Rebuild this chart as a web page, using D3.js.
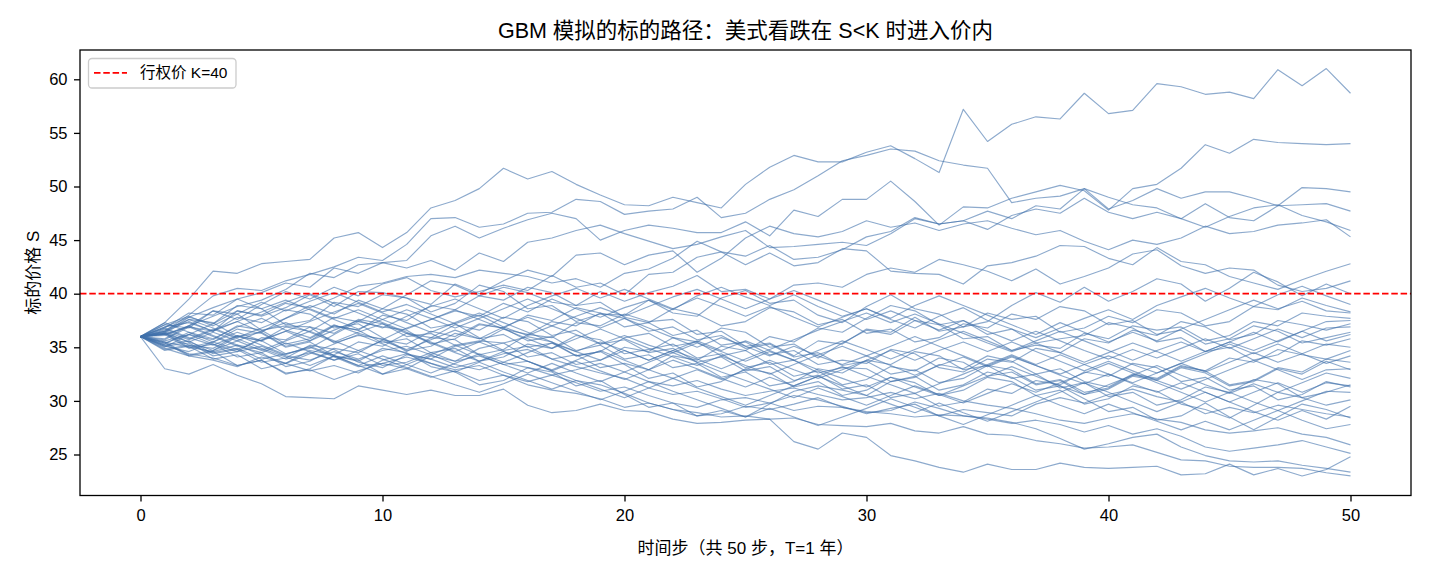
<!DOCTYPE html>
<html><head><meta charset="utf-8">
<script src="https://cdn.jsdelivr.net/npm/d3@7"></script>
<style>
html,body{margin:0;padding:0;background:#fff;}
svg text{font-family:"Liberation Sans","Noto Sans CJK SC",Arial,sans-serif;fill:#000;}
</style></head>
<body><svg id="c" width="1430" height="572"></svg>
<script>
// ---- data ----
const titleText = "GBM 模拟的标的路径：美式看跌在 S<K 时进入价内";
const xLabel = "时间步（共 50 步，T=1 年）";
const yLabel = "标的价格 S";
const legendLabel = "行权价 K=40";
const strike = 40;
const xTicks = [0, 10, 20, 30, 40, 50];
const yTicks = [25, 30, 35, 40, 45, 50, 55, 60];

const path01 = [36,37.3,39.5,42.1,41.9,42.8,43.0,43.2,45.2,45.7,44.3,45.7,48.0,48.7,49.8,51.7,50.7,51.4,50.2,49.2,48.3,48.2,49.0,48.5,48.0,50.2,51.8,52.9,52.3,52.3,53.2,53.8,52.6,51.3,57.2,54.2,55.8,56.5,56.3,58.7,56.8,57.1,59.6,59.3,58.6,58.8,58.2,60.9,59.4,61.0,58.7];
const path02 = [36,36.8,38.2,38.0,39.5,40.1,41.0,40.6,42.4,41.9,42.9,43.1,45.4,46.3,45.2,46.1,46.9,47.5,47.0,45.0,45.9,46.4,46.1,45.7,45.7,46.7,45.4,47.8,47.2,48.8,48.8,50.5,48.6,46.4,48.1,48.0,48.9,49.5,50.1,49.6,47.8,49.8,50.2,51.7,53.9,53.1,54.4,54.1,54.0,53.9,54.0];
const path03 = [36,36.5,38.0,39.8,40.5,40.3,41.2,41.8,42.5,43.4,43.1,44.6,47.0,47.1,46.2,46.5,47.5,47.6,48.8,48.6,47.4,47.7,47.9,49.0,47.1,47.5,48.8,49.7,51.0,52.4,52.9,53.5,53.3,52.4,52.0,51.7,48.5,48.9,49.1,49.8,47.9,48.7,49.8,48.9,49.5,49.5,48.9,48.2,49.9,49.8,49.5];
const path04 = [36,36.2,37.0,37.9,38.8,39.4,40.4,41.9,41.5,42.7,42.9,42.4,43.1,42.2,43.8,43.0,44.8,45.2,45.9,46.4,45.6,44.9,44.2,44.6,45.3,45.9,44.3,44.4,44.6,44.8,44.5,45.6,47.0,46.5,46.8,46.0,47.3,47.9,47.5,48.9,47.6,47.0,47.6,47.0,48.4,47.1,46.8,48.2,48.3,48.4,47.7];
const path05 = [36,35.4,36.2,37.2,38.4,38.0,39.1,38.7,39.6,40.7,41.0,41.6,41.8,41.5,42.2,41.9,41.6,41.0,41.4,40.6,41.9,42.3,43.3,44.9,43.9,43.5,44.5,43.2,43.4,44.1,45.3,45.8,47.1,46.5,46.8,47.7,47.0,48.2,47.9,49.8,49.0,48.3,48.0,47.0,46.2,47.2,48.0,48.3,47.3,46.7,45.9];
const path06 = [36,36.9,37.3,36.5,38.4,37.9,38.7,39.9,38.8,40.2,40.1,39.6,39.0,40.9,40.0,41.2,42.2,41.6,43.6,43.8,42.7,43.6,44.0,42.0,43.3,45.2,46.3,45.6,45.3,45.8,46.8,46.2,46.6,45.9,46.5,46.8,46.1,45.5,45.9,44.9,44.1,45.0,44.6,45.2,46.3,45.6,45.8,46.4,46.6,46.9,45.3];
const path07 = [36,35.8,37.0,38.4,37.6,39.0,40.2,39.5,40.6,39.8,40.9,41.5,40.3,39.7,40.2,40.8,40.3,41.7,40.6,41.0,39.9,41.8,42.0,43.4,43.9,42.7,43.8,42.6,42.9,44.2,44.0,42.1,41.9,41.8,40.9,42.6,42.9,43.5,44.5,44.4,43.3,42.7,44.3,43.0,42.7,41.6,41.0,40.4,41.3,42.1,42.8];
const path08 = [36,36.5,35.7,36.6,37.4,36.4,37.7,38.9,38.1,39.4,38.6,39.9,41.2,40.8,39.8,40.6,40.1,39.2,38.9,40.2,39.3,40.1,40.7,41.7,40.2,40.4,39.5,40.8,41.0,40.6,41.8,42.4,42.0,43.2,42.7,42.1,41.2,42.3,40.9,41.6,42.4,43.7,44.1,42.6,41.9,42.4,42.2,40.8,40.2,40.5,41.2];
const path09 = [36,36.4,37.8,37.2,38.9,38.6,37.1,37.5,39.2,38.8,39.9,39.6,38.3,39.1,40.8,40.2,38.6,38.9,37.4,38.1,38.0,39.4,38.2,37.9,39.6,40.3,39.1,39.4,38.0,37.3,38.8,39.9,38.6,38.1,36.9,37.4,38.9,40.1,39.2,40.6,39.3,40.2,41.4,40.9,39.3,40.5,42.0,41.1,39.8,40.9,40.0];
const path10 = [36,35.3,36.4,35.8,36.9,37.7,36.6,35.9,37.1,36.3,35.7,36.8,37.6,38.4,37.9,39.1,38.3,39.5,38.6,37.8,38.7,39.4,38.5,39.8,40.6,39.7,38.9,39.9,38.8,37.9,38.6,37.6,36.8,37.9,38.7,37.5,36.7,35.9,36.8,37.7,38.5,37.6,38.9,39.7,40.5,39.6,38.8,39.9,40.7,39.8,39.0];
const path11 = [36,37.1,36.8,38.4,38.1,36.6,37.0,36.9,35.4,36.1,35.8,34.6,35.9,35.7,34.3,34.8,36.2,35.9,37.3,37.0,38.1,37.4,37.6,36.2,36.5,35.1,35.4,34.2,35.6,35.3,36.7,36.4,37.8,36.5,36.9,38.2,37.6,37.9,36.4,36.8,37.9,37.3,38.5,38.2,37.0,37.4,38.8,38.5,39.6,38.9,38.3];
const path12 = [36,35.1,34.6,35.5,34.8,35.7,36.5,35.6,36.6,37.5,36.8,37.9,38.8,39.5,38.6,37.7,38.9,39.8,40.5,39.6,40.4,39.5,38.6,39.6,38.8,37.9,38.8,37.8,36.9,37.8,38.6,37.7,38.9,39.8,38.9,38.0,37.1,36.2,37.3,36.4,35.5,36.4,35.6,36.7,37.6,38.5,39.4,38.6,39.3,38.4,38.2];
const path13 = [36,35.1,35.4,34.2,34.6,35.9,35.7,36.9,36.3,37.6,37.2,36.0,36.3,35.2,35.6,35.4,34.1,34.5,33.4,33.8,35.0,34.6,35.9,35.5,36.8,36.4,35.0,35.3,34.0,35.4,36.6,36.2,37.5,37.1,35.8,36.0,34.7,35.2,34.9,36.3,35.8,37.0,36.6,36.9,35.6,36.1,37.4,37.0,38.2,37.9,37.7];
const path14 = [36,37.1,37.9,37.0,38.1,39.2,38.4,39.3,40.1,39.2,38.3,39.0,38.1,37.2,38.0,36.9,36.1,37.0,36.2,35.3,36.1,35.2,34.5,35.4,34.6,33.7,34.6,33.8,34.7,35.6,34.8,33.9,34.8,35.7,36.5,35.6,34.7,35.6,36.5,35.6,34.7,33.8,34.7,35.5,34.6,35.5,36.4,35.5,36.5,37.4,37.5];
const path15 = [36,36.3,37.6,37.3,36.0,36.4,35.1,35.6,37.0,36.6,38.0,37.5,38.9,38.5,39.8,39.4,40.6,40.1,38.9,39.2,37.8,37.3,36.1,36.6,35.2,35.5,34.3,34.7,33.4,33.8,33.5,34.8,34.4,33.1,32.7,33.9,33.6,34.9,34.5,35.8,35.4,36.6,36.1,37.4,36.9,35.7,36.2,37.5,37.1,36.6,37.2];
const path16 = [36,36.2,36.9,36.0,35.1,34.5,35.4,34.6,33.8,34.7,35.6,34.8,35.7,36.6,35.8,36.9,37.8,37.0,37.9,38.7,37.9,38.8,39.7,40.4,39.5,38.6,39.5,40.3,39.4,38.5,37.6,38.4,37.5,36.6,37.5,36.5,35.6,36.5,35.6,34.7,33.9,34.8,34.0,34.9,35.8,34.9,35.8,36.7,35.9,36.8,36.9];
const path17 = [36,34.8,35.2,34.9,36.1,35.6,34.4,34.9,36.2,37.4,36.9,36.6,35.3,35.8,37.1,36.8,38.0,37.5,38.7,38.2,36.9,37.3,38.6,38.1,37.0,37.4,38.7,38.3,37.1,37.6,36.3,36.7,35.5,35.9,37.2,36.8,38.1,37.6,38.8,38.4,37.1,37.5,36.2,36.6,35.3,35.8,37.0,36.5,35.4,35.9,36.4];
const path18 = [36,36.8,35.9,35.2,36.1,35.2,34.3,35.1,34.2,33.3,34.2,33.4,32.6,33.5,34.4,33.6,34.5,35.4,34.6,35.5,34.7,33.8,34.7,33.9,33.0,33.9,34.8,35.7,36.6,37.4,38.2,37.3,38.1,37.2,36.3,35.4,34.6,35.4,34.5,33.6,34.5,35.4,34.6,33.7,34.6,35.5,34.7,35.6,36.5,35.6,36.2];
const path19 = [36,35.5,34.3,34.7,36.0,35.6,36.9,36.5,37.8,37.4,38.6,38.1,36.8,37.2,35.9,34.7,35.1,33.9,34.3,33.1,33.5,32.9,34.2,33.8,35.1,34.7,36.0,35.5,36.8,36.4,37.7,38.9,38.4,37.1,37.5,36.2,36.7,35.4,35.8,36.1,37.3,36.8,35.5,35.9,34.6,35.0,33.8,34.3,35.6,35.2,35.8];
const path20 = [36,36.6,37.6,36.8,35.9,36.8,37.7,38.6,37.7,38.5,37.6,36.7,37.6,38.5,37.6,36.7,35.8,34.9,35.8,36.7,35.8,34.9,34.1,33.3,34.2,33.3,32.5,33.4,34.3,35.1,34.2,35.1,36.0,35.1,34.2,33.3,34.2,33.3,32.5,33.4,34.2,33.4,32.6,33.5,34.4,35.3,34.4,35.3,34.4,35.3,35.0];
const path21 = [36,35.7,36.9,36.5,37.8,37.3,38.5,38.1,36.8,37.2,35.9,34.7,35.1,36.3,35.8,36.2,35.0,35.4,34.2,34.6,35.9,36.3,35.1,35.5,34.2,34.7,33.4,33.8,32.6,33.1,33.0,31.8,32.2,33.4,33.0,34.2,33.7,32.5,33.0,31.8,31.3,32.5,32.1,33.3,32.8,34.0,33.6,34.8,34.3,33.9,34.7];
const path22 = [36,36.9,37.8,38.7,39.5,38.6,39.4,38.5,37.6,36.7,37.6,38.5,37.7,36.8,37.7,38.6,39.5,38.6,37.7,36.8,37.7,36.8,35.9,35.0,35.9,35.1,34.2,35.1,34.2,33.4,34.2,33.3,32.4,33.3,34.1,33.2,34.1,33.3,32.4,31.6,32.5,31.7,32.6,33.5,32.7,33.6,34.5,33.6,34.4,33.5,34.2];
const path23 = [36,35.2,35.6,34.4,34.8,33.6,34.0,35.2,34.8,33.6,33.1,34.3,33.9,35.1,35.5,36.7,36.2,37.4,37.0,38.2,37.7,36.5,36.9,35.7,36.1,34.9,35.3,34.1,34.5,33.3,33.7,32.5,32.9,31.7,32.1,33.3,32.9,31.6,32.0,30.8,31.2,32.4,32.0,33.2,32.8,31.5,31.9,33.1,32.7,33.9,33.6];
const path24 = [36,36.3,35.5,36.4,35.6,36.5,37.3,36.4,35.5,36.4,37.2,36.3,35.4,34.5,33.7,34.6,33.7,32.9,33.8,34.7,33.8,32.9,32.1,32.9,32.0,32.9,33.8,32.9,32.1,32.9,33.8,34.7,33.8,34.7,35.5,34.6,35.5,34.6,33.7,32.8,33.7,32.8,31.9,31.1,32.0,32.9,33.8,32.9,32.0,32.9,33.0];
const path25 = [36,35.0,36.2,35.7,37.0,36.6,35.3,35.8,37.0,36.6,35.4,35.8,34.5,34.9,33.7,34.1,35.3,34.9,36.1,35.7,34.4,34.8,35.3,34.0,34.4,33.1,33.6,32.3,32.8,31.5,32.0,33.2,32.8,34.0,33.6,32.3,32.7,31.5,31.9,30.6,31.1,32.3,31.9,33.1,32.6,31.4,31.8,33.0,32.5,33.7,32.9];
const path26 = [36,37.3,36.4,35.5,36.4,35.6,36.5,37.4,38.3,39.1,38.2,37.3,36.4,37.3,38.2,37.3,36.4,35.5,34.6,33.8,34.7,33.8,34.7,35.6,34.7,35.6,34.7,33.8,32.9,32.1,31.3,32.2,31.3,30.5,31.4,32.3,33.2,32.3,31.4,30.6,31.5,32.4,33.3,32.4,31.5,30.7,31.6,30.8,31.7,32.6,32.1];
const path27 = [36,36.2,34.9,35.3,34.1,34.5,33.2,33.7,34.9,34.5,35.7,35.3,36.5,36.0,37.2,36.8,35.6,36.0,34.7,35.2,33.9,34.3,33.1,33.5,32.2,32.7,31.4,31.8,33.0,32.6,33.8,33.4,34.6,34.2,32.9,33.3,32.1,32.5,31.2,31.7,30.4,30.8,29.6,30.1,31.3,30.8,32.0,31.6,30.3,30.8,31.5];
const path28 = [36,36.5,37.4,36.5,37.4,38.3,39.2,40.0,39.1,38.2,37.3,36.4,35.5,34.6,35.5,34.6,33.7,32.8,33.7,32.8,32.0,32.9,33.8,33.0,32.1,31.3,32.2,31.4,32.3,33.2,32.3,31.5,30.7,31.6,32.5,33.4,34.3,33.4,34.3,33.4,32.5,31.6,30.8,31.7,30.8,29.9,30.8,31.7,30.8,31.7,31.4];
const path29 = [36,34.7,35.1,33.9,34.3,33.0,33.5,34.7,34.3,35.5,35.1,36.3,35.9,37.1,36.6,37.8,37.4,36.1,36.6,35.3,35.7,34.5,34.9,33.6,34.1,32.8,33.2,31.9,32.4,31.1,31.5,30.3,30.7,29.5,29.9,31.1,30.7,31.9,31.5,32.7,32.3,33.5,33.1,31.8,32.2,31.0,31.4,30.1,30.6,31.8,31.3];
const path30 = [36,36.7,35.8,36.7,35.8,34.9,34.1,33.3,34.2,33.3,32.5,33.4,34.3,35.2,34.3,33.4,32.6,33.5,32.6,31.8,32.7,33.6,34.5,33.6,32.7,31.9,31.1,30.3,31.2,30.4,29.6,30.5,31.4,30.6,29.8,30.7,31.6,30.8,31.7,32.6,33.5,32.6,31.7,30.8,29.9,30.8,29.9,29.1,30.0,30.9,30.8];
const path31 = [36,35.4,34.2,34.6,33.3,33.8,32.5,33.0,34.2,33.8,32.5,33.0,34.2,33.7,34.9,35.4,36.0,35.5,34.2,34.6,33.4,32.1,32.6,31.3,31.8,33.0,32.6,31.3,31.8,30.5,31.0,32.2,31.7,30.5,31.0,32.2,31.8,30.5,31.0,29.7,30.2,31.4,30.9,29.7,29.2,28.4,29.6,30.8,30.3,29.6,30.1];
const path32 = [36,36.1,37.0,36.1,35.2,34.3,33.5,34.4,35.3,36.2,35.3,34.4,33.5,32.7,33.6,32.7,31.9,31.1,31.9,31.1,30.3,31.2,32.1,31.2,30.4,29.6,30.5,31.4,32.3,31.4,30.5,29.7,28.9,29.8,28.9,28.1,29.0,29.9,30.8,31.7,30.8,29.9,29.0,29.9,30.8,29.9,29.0,28.2,29.1,28.3,29.5];
const path33 = [36,36.3,35.0,35.5,36.7,36.3,35.0,35.5,34.2,33.7,34.9,34.5,33.2,32.7,31.5,31.9,33.1,32.7,31.4,31.9,30.6,29.4,29.8,28.6,29.1,28.5,29.7,30.9,31.4,31.0,30.5,31.8,32.3,31.0,31.5,32.7,32.2,31.0,31.4,30.2,29.0,29.4,28.2,28.6,29.8,28.5,27.3,28.5,29.7,29.2,28.4];
const path34 = [36,36.4,35.5,34.7,35.6,34.7,35.6,36.5,35.6,34.7,33.9,33.1,32.3,31.5,30.8,31.6,32.5,31.7,30.9,30.1,30.9,31.8,30.9,30.1,29.3,28.5,29.3,28.5,27.7,28.5,29.3,30.2,29.4,28.6,27.8,28.7,29.6,30.5,29.6,28.8,29.7,28.9,28.1,27.3,28.1,27.3,28.2,29.1,28.2,27.4,27.8];
const path35 = [36,33.0,32.5,33.4,32.4,31.6,30.4,30.3,30.2,31.4,31.0,30.6,31.0,30.5,30.5,31.1,29.6,28.9,29.1,29.7,29.1,29.0,28.3,27.9,28.0,28.2,28.3,26.2,25.5,27.0,26.6,24.9,24.4,23.8,23.35,24.1,23.6,23.6,24.2,23.8,23.7,23.8,23.9,23.1,23.2,24.1,23.1,23.7,23.0,23.6,24.8];
const path36 = [36,35.2,34.4,34.0,33.3,33.8,32.6,32.9,32.0,32.8,33.5,33.0,32.2,32.8,31.9,32.4,31.5,31.0,30.7,30.2,29.4,29.8,29.2,28.6,28.8,29.5,29.2,29.7,30.3,29.4,29.0,28.8,28.5,28.7,28.6,28.4,28.0,27.4,26.5,25.5,26.0,26.6,26.9,25.7,24.9,24.4,24.3,24.4,24.0,23.7,23.35];
const path37 = [36,35.5,35.0,34.6,35.2,34.8,33.9,34.5,33.8,34.4,33.3,33.6,34.5,33.7,34.2,33.4,33.7,32.8,31.9,31.5,30.7,29.8,29.2,28.9,28.5,28.6,28.3,28.4,27.8,27.7,27.6,27.9,27.2,27.0,27.6,26.9,26.8,26.3,26.0,25.6,25.7,25.9,25.2,24.5,24.4,23.9,23.8,23.8,23.7,23.3,23.0];
const path38 = [36,36.3,35.2,34.5,34.9,33.9,34.4,35.0,34.1,33.2,33.5,34.1,33.5,32.9,33.3,32.4,31.8,32.4,31.7,30.9,31.3,30.5,29.8,29.4,30.1,30.3,29.8,29.1,29.5,29.4,28.9,29.1,29.9,29.3,28.6,28.3,27.9,28.2,27.8,27.1,27.7,26.9,27.4,26.7,25.7,25.3,25.6,25.9,26.3,25.7,25.1];
const path39 = [36,35.6,36.2,35.3,34.6,35.1,34.2,33.8,34.6,33.9,34.7,35.1,34.3,33.4,32.9,33.6,33.1,32.4,32.9,33.5,32.7,31.8,31.4,31.9,31.1,30.5,30.9,31.2,30.6,30.1,30.3,30.8,30.2,30.7,30.0,29.6,29.3,28.8,28.2,27.9,28.4,28.8,28.3,28.0,27.3,27.0,27.2,27.5,26.9,26.6,25.9];
const path40 = [36,34.9,34.2,33.8,33.2,34.1,33.5,32.8,33.3,32.6,33.8,34.4,33.9,33.1,33.7,34.4,34.8,33.9,33.2,32.6,32.1,31.2,30.6,30.9,30.2,29.4,29.8,30.5,30.1,29.5,28.8,29.3,29.7,28.6,29.2,28.9,28.6,29.7,30.3,29.8,30.6,31.1,30.4,29.9,28.8,29.4,28.9,29.6,29.2,28.8,28.5];

const paths = [path01,path02,path03,path04,path05,path06,path07,path08,path09,path10,
  path11,path12,path13,path14,path15,path16,path17,path18,path19,path20,
  path21,path22,path23,path24,path25,path26,path27,path28,path29,path30,
  path31,path32,path33,path34,path35,path36,path37,path38,path39,path40];

// ---- layout ----
const L = 80, R = 1411, T = 50, B = 495.5;
const svg = d3.select("#c");
const x = d3.scaleLinear().domain([-2.5, 52.5]).range([L, R]);
const y = d3.scaleLinear().domain([21.175, 62.733]).range([B, T]);

svg.append("defs").append("clipPath").attr("id","clip")
  .append("rect").attr("x",L).attr("y",T).attr("width",R-L).attr("height",B-T);

const plot = svg.append("g").attr("clip-path","url(#clip)");
const line = d3.line().x((d,i)=>x(i)).y(d=>y(d));

plot.selectAll("path.gbm").data(paths).join("path")
  .attr("class","gbm")
  .attr("d", line)
  .attr("fill","none")
  .attr("stroke","#4171ab")
  .attr("stroke-opacity",0.6)
  .attr("stroke-width",1.15)
  .attr("stroke-linejoin","round");

plot.append("line")
  .attr("x1",L).attr("x2",R)
  .attr("y1",y(strike)).attr("y2",y(strike))
  .attr("stroke","#ff0000").attr("stroke-width",1.75)
  .attr("stroke-dasharray","6.5,2.8");

// axes
const xAxis = d3.axisBottom(x).tickValues(xTicks).tickSize(6).tickPadding(8);
const yAxis = d3.axisLeft(y).tickValues(yTicks).tickSize(6).tickPadding(6.5);

const gx = svg.append("g").attr("transform",`translate(0,${B})`).call(xAxis);
const gy = svg.append("g").attr("transform",`translate(${L},0)`).call(yAxis);
[gx,gy].forEach(g=>{
  g.select(".domain").remove();
  g.selectAll(".tick line").attr("stroke","#000").attr("stroke-width",1.3);
  g.selectAll(".tick text").attr("font-size","16.5px").attr("fill","#000")
   .style("font-family",'"Liberation Sans","Noto Sans CJK SC",Arial,sans-serif');
});

// frame
svg.append("rect").attr("x",L).attr("y",T).attr("width",R-L).attr("height",B-T)
  .attr("fill","none").attr("stroke","#000").attr("stroke-width",1.3);

// title and labels
svg.append("text").attr("x",(L+R)/2).attr("y",37.5).attr("text-anchor","middle")
  .attr("font-size","21.5px").text(titleText);
svg.append("text").attr("x",(L+R)/2).attr("y",553.5).attr("text-anchor","middle")
  .attr("font-size","17px").text(xLabel);
svg.append("text").attr("transform",`translate(39,${(T+B)/2}) rotate(-90)`)
  .attr("text-anchor","middle").attr("font-size","17px").text(yLabel);

// legend
const lg = svg.append("g");
lg.append("rect").attr("x",88.5).attr("y",58.5).attr("width",147.5).attr("height",29.5)
  .attr("rx",3.5).attr("fill","#fff").attr("fill-opacity",0.8)
  .attr("stroke","#cccccc").attr("stroke-width",1.3);
lg.append("line").attr("x1",94).attr("x2",127).attr("y1",72.8).attr("y2",72.8)
  .attr("stroke","#ff0000").attr("stroke-width",1.75).attr("stroke-dasharray","6.5,2.8");
lg.append("text").attr("x",140).attr("y",78.3).attr("font-size","15.5px").text(legendLabel);
</script></body></html>
